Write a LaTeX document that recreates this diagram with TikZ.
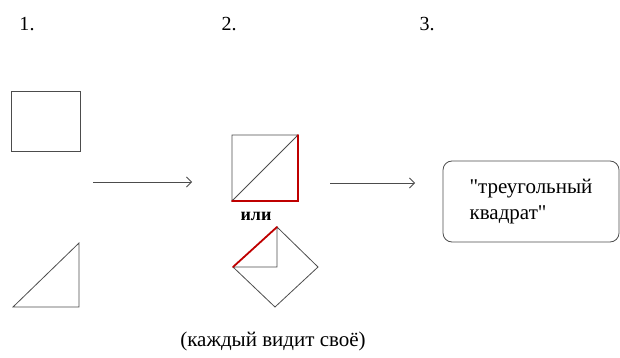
\documentclass[tikz,border=0pt]{standalone}
\usepackage{fontspec}
\setmainfont{Liberation Serif}[Ligatures=TeXOff]
\usetikzlibrary{arrows.meta, positioning}

\begin{document}
\begin{tikzpicture}[x=1pt, y=-1pt,
    figline/.style={draw=black!70, line width=0.8pt},
    rededge/.style={draw=red!75!black, line width=1.8pt, line cap=round},
    arrow/.style={-{Straight Barb[length=5pt, width=10pt]}, draw=black!70, line width=0.8pt},
    stagenum/.style={font=\fontsize{20}{24}\selectfont},
    result/.style={draw=black!70, line width=0.8pt, rounded corners=9pt, minimum width=176pt, minimum height=81pt, align=left, font=\fontsize{21}{26}\selectfont}
]
    \useasboundingbox (0,0) rectangle (620,358);

    % stage numbers
    \node[stagenum] (n1) at (27, 24) {1.};
    \node[stagenum] (n2) at (229, 24) {2.};
    \node[stagenum] (n3) at (427, 24) {3.};

    % stage 1: square and triangle
    \draw[figline] (11, 91) rectangle (80, 151);
    \draw[figline] (13, 307) -- (79, 307) -- (79, 243) -- cycle;

    % stage 2: square with diagonal
    \draw[figline] (298, 135) -- (232, 135) -- (232, 201) -- (298, 135);
    \draw[rededge] (232, 201) -- (298, 201) -- (298, 135);
    \node[font=\fontsize{18}{20}\selectfont\bfseries] (ili) at (256, 216) {или};

    % stage 2: turned square
    \draw[figline] (233, 267) -- (275, 307) -- (318, 267) -- (277, 227) -- (277, 267) -- (233, 267);
    \draw[rededge] (233, 267) -- (277, 227);

    % stage 3
    \node[result] (res) at (531, 201.5) {"треугольный\\квадрат"};

    % arrows
    \coordinate (a1s) at (93, 182);
    \coordinate (a1e) at (192, 182);
    \coordinate (a2s) at (330, 183);
    \coordinate (a2e) at (415, 183);
    \draw[arrow] (a1s) -- (a1e);
    \draw[arrow] (a2s) -- (a2e);

    \node[font=\fontsize{21}{24}\selectfont] (note) at (273, 341) {(каждый видит своё)};
\end{tikzpicture}
\end{document}
